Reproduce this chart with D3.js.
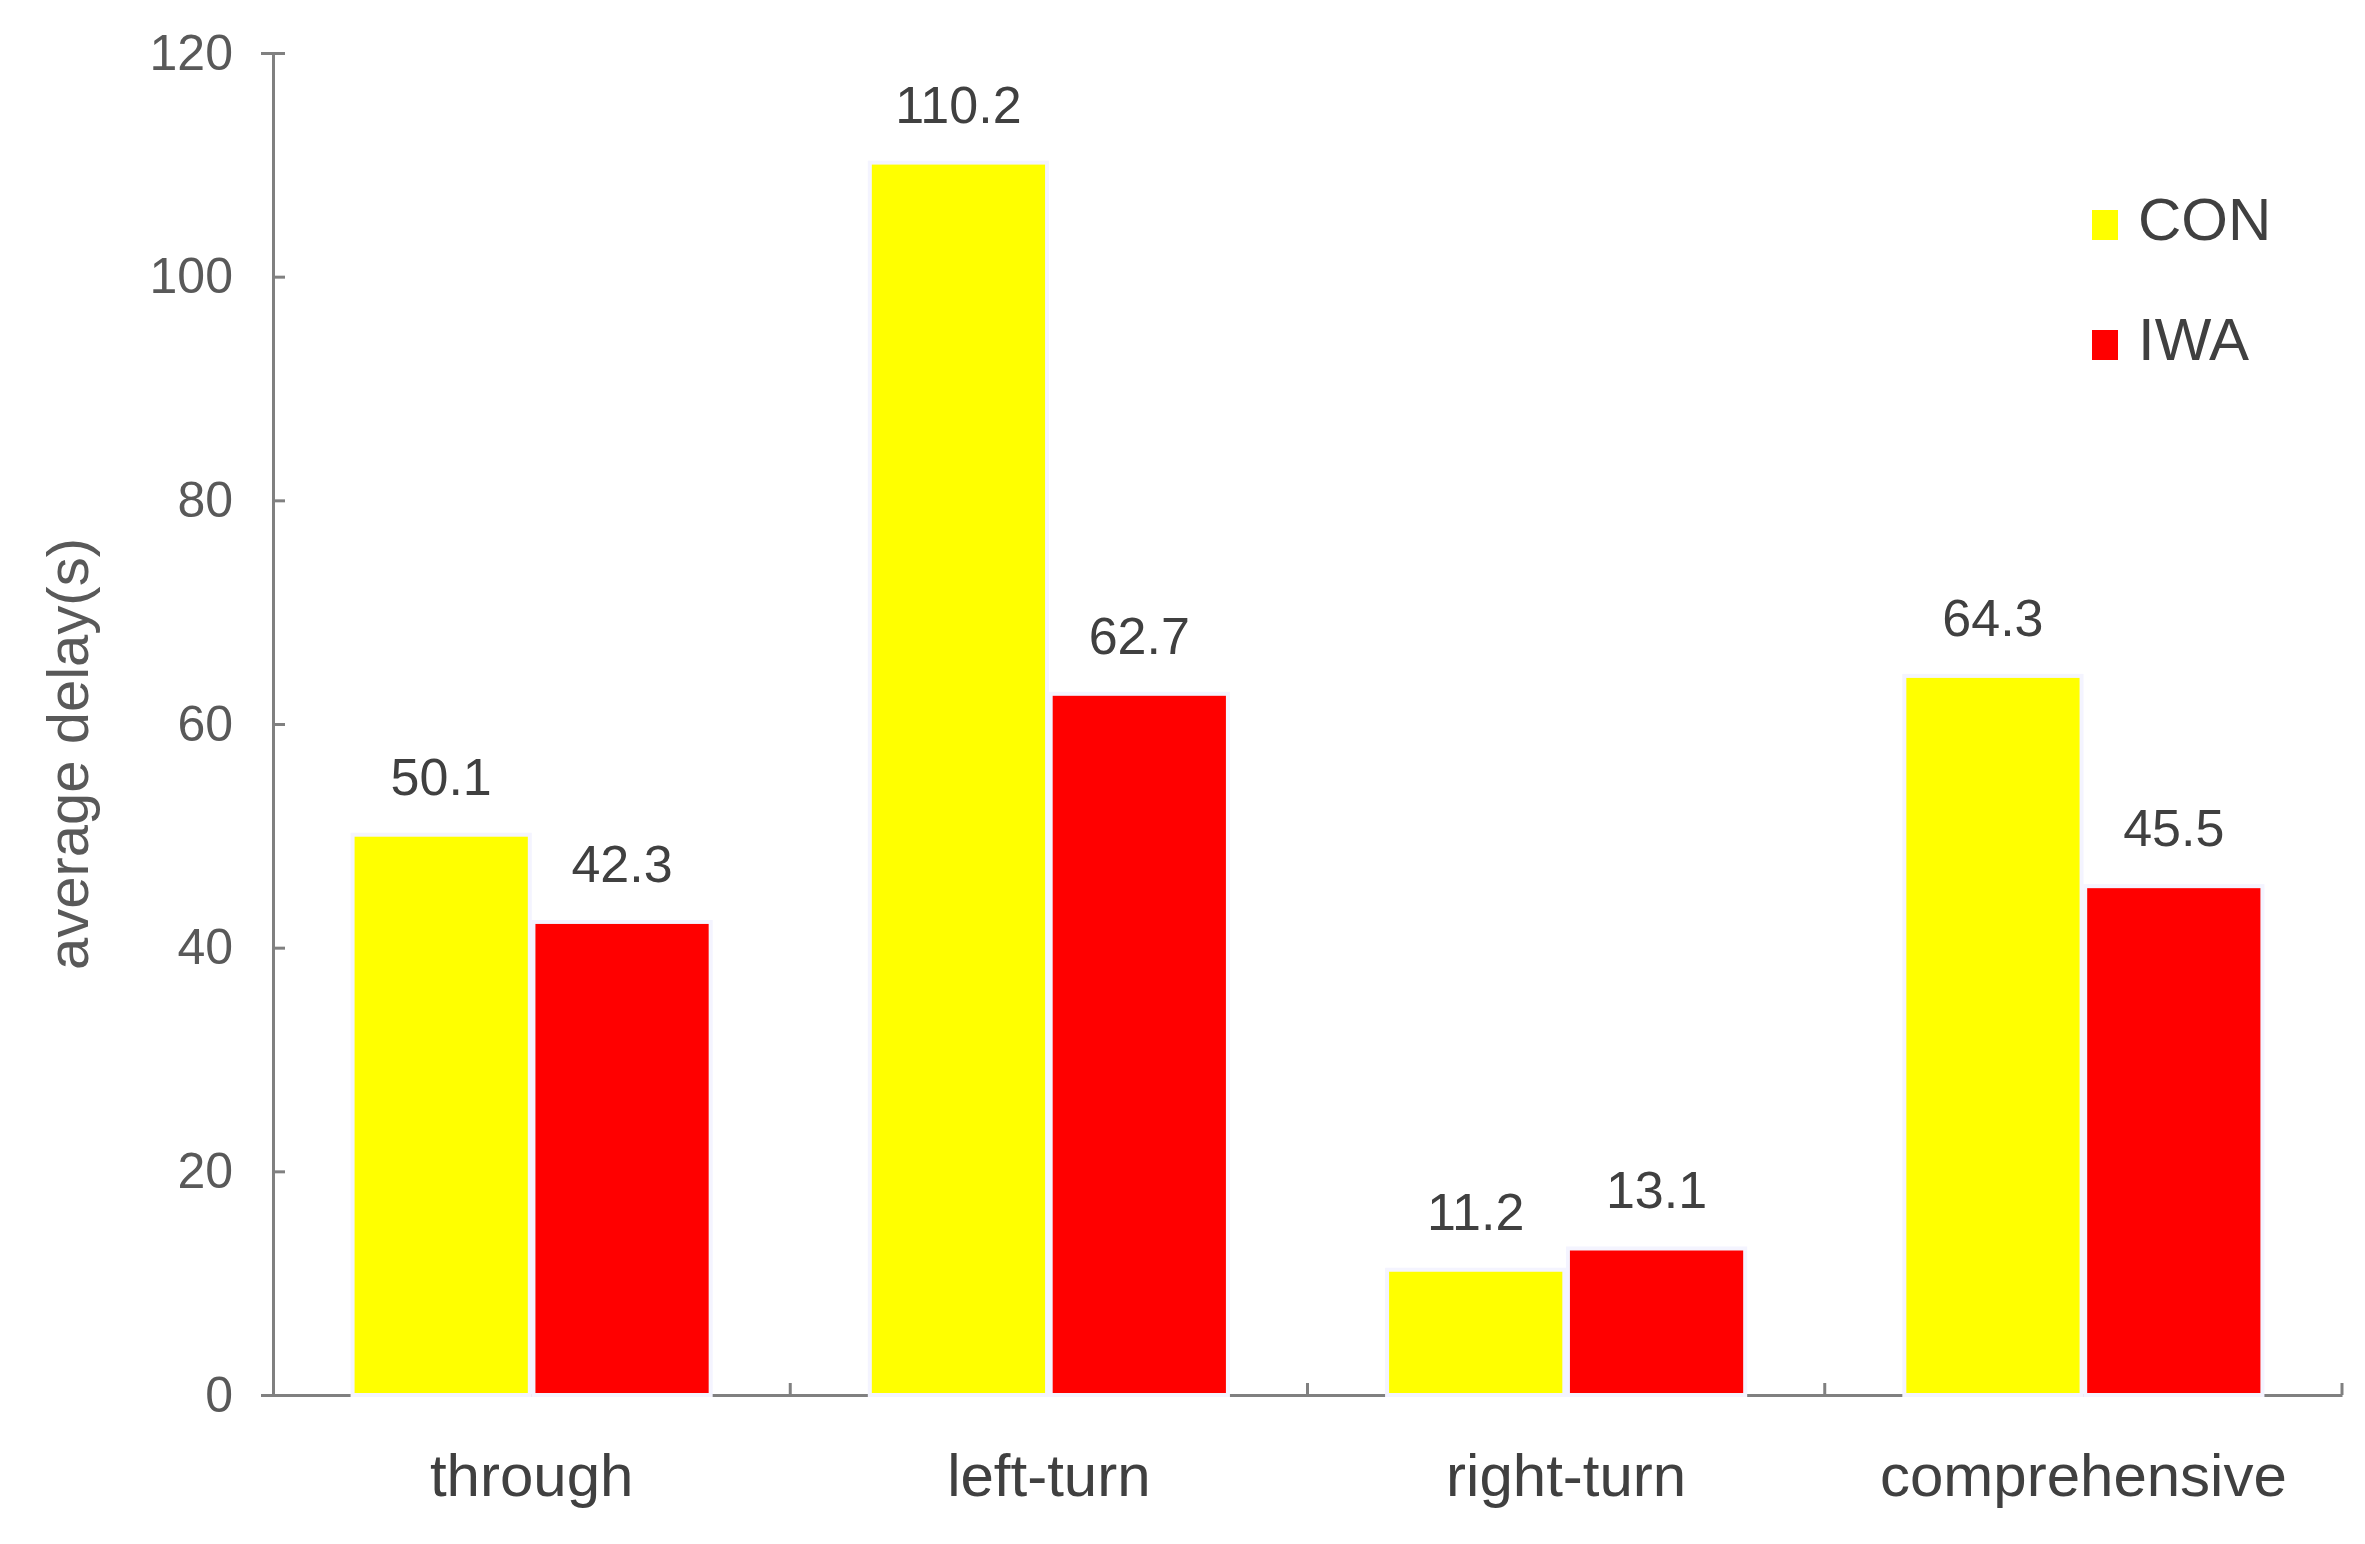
<!DOCTYPE html>
<html lang="en">
<head>
<meta charset="UTF-8">
<title>Average delay</title>
<script src="https://d3js.org/d3.v7.min.js"></script>
<style>
  body { margin: 0; background: #fff; }
  text { font-family: "Liberation Sans", Arial, sans-serif; fill: #404040; }
</style>
</head>
<body>
<svg></svg>
<script>
const categories = ["through", "left-turn", "right-turn", "comprehensive"];
const seriesNames = ["CON", "IWA"];
const conValues = [50.1, 110.2, 11.2, 64.3];
const iwaValues = [42.3, 62.7, 13.1, 45.5];
const yTicks = [0, 20, 40, 60, 80, 100, 120];
const colors = { CON: "#ffff00", IWA: "#ff0000" };

const W = 2365, H = 1544;
const mLeft = 273, mRight = 2342, mTop = 53, mBottom = 1395;

const svg = d3.select("svg").attr("width", W).attr("height", H);

const x0 = d3.scaleBand().domain(categories).range([mLeft, mRight]).paddingInner(0).paddingOuter(0);
const x1 = d3.scaleBand().domain(seriesNames).range([0, x0.bandwidth()]).paddingInner(0.02).paddingOuter(0.44);
const y = d3.scaleLinear().domain([0, 120]).range([mBottom, mTop]);

const data = categories.map((c, i) => ({ cat: c, CON: conValues[i], IWA: iwaValues[i] }));

// y axis
const yAxis = svg.append("g").attr("transform", `translate(${mLeft},0)`)
  .call(d3.axisLeft(y).tickValues(yTicks).tickSize(12).tickPadding(28));
yAxis.select(".domain").attr("stroke", "#808080").attr("stroke-width", 3);
yAxis.selectAll(".tick line").attr("stroke", "#808080").attr("stroke-width", 3).attr("x2", 12);
yAxis.selectAll(".tick text").style("font-size", "50px").style("fill", "#595959");

// x axis
const xAxis = svg.append("g").attr("transform", `translate(0,${mBottom})`)
  .call(d3.axisBottom(x0).tickSize(0).tickPadding(58));
xAxis.select(".domain").attr("stroke", "#808080").attr("stroke-width", 3);
xAxis.selectAll(".tick text").style("font-size", "60px").style("fill", "#404040");
// category separators
xAxis.selectAll(".sep").data(categories).enter().append("line")
  .attr("x1", (d, i) => mLeft + x0.bandwidth() * (i + 1))
  .attr("x2", (d, i) => mLeft + x0.bandwidth() * (i + 1))
  .attr("y1", 0).attr("y2", -12)
  .attr("stroke", "#808080").attr("stroke-width", 3);

// bars
const groups = svg.selectAll(".grp").data(data).enter().append("g")
  .attr("transform", d => `translate(${x0(d.cat)},0)`);
groups.selectAll("rect").data(d => seriesNames.map(k => ({ key: k, value: d[k] }))).enter().append("rect")
  .attr("x", d => x1(d.key))
  .attr("y", d => y(d.value))
  .attr("width", x1.bandwidth())
  .attr("height", d => y(0) - y(d.value))
  .attr("fill", d => colors[d.key])
  .attr("stroke", "#f4f4ff").attr("stroke-width", 4);
groups.selectAll(".lbl").data(d => seriesNames.map(k => ({ key: k, value: d[k] }))).enter().append("text")
  .attr("x", d => x1(d.key) + x1.bandwidth() / 2)
  .attr("y", d => y(d.value) - 40)
  .attr("text-anchor", "middle")
  .style("font-size", "52px")
  .text(d => d.value.toFixed(1));

// y title
svg.append("text")
  .attr("transform", `translate(88,${(mTop + mBottom) / 2 + 30}) rotate(-90)`)
  .attr("text-anchor", "middle")
  .style("font-size", "58px").style("fill", "#595959")
  .text("average delay(s)");

// legend
const legend = svg.append("g").attr("transform", "translate(2092,210)");
seriesNames.forEach((k, i) => {
  const row = legend.append("g").attr("transform", `translate(0,${i * 120})`);
  row.append("rect").attr("width", 26).attr("height", 30).attr("fill", colors[k]);
  row.append("text").attr("x", 46).attr("y", 30).style("font-size", "60px").text(k);
});
</script>
</body>
</html>
